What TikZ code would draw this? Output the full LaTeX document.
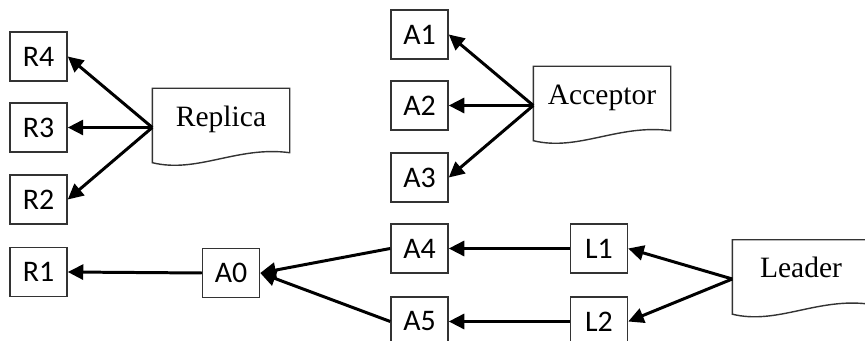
\documentclass[tikz,border=0pt]{standalone}
\usepackage{fontspec}
\setmainfont{Liberation Serif}
\newfontfamily\boxfont{Carlito}
\usetikzlibrary{calc, arrows.meta}

% outline of a document shape round a node
\newcommand{\docoutline}[1]{%
  \draw[docline] ($(#1.south west)+(0,0.08)$) -- (#1.north west) -- (#1.north east)
    -- ($(#1.south east)+(0,0.28)$)
    .. controls ($(#1.south west)+(1.7,0.42)$) and ($(#1.south west)+(0.9,-0.14)$)
    .. ($(#1.south west)+(0,0.08)$) -- cycle;}

\begin{document}
\begin{tikzpicture}[thick,
box/.style = {draw=black!80, line width=0.85pt, minimum width=1.14cm,
    minimum height=0.98cm, inner sep=0pt, font=\boxfont\fontsize{17}{20}\selectfont},
doc/.style = {minimum width=2.72cm, minimum height=1.54cm, inner sep=0pt,
    text height=0.4cm, text depth=0.45cm, font=\fontsize{16.8}{20}\selectfont},
docline/.style = {draw=black!80, line width=0.8pt},
link/.style = {line width=1.7pt, -{Triangle[length=3.1mm, width=3mm]}}]
\useasboundingbox (0,0) rectangle (17.3,6.82);
\clip (0,0) rectangle (17.3,6.82);

% replicas
\node [box] (r4) at (0.77,5.69) {R4};
\node [box] (r3) at (0.77,4.27) {R3};
\node [box] (r2) at (0.77,2.83) {R2};
\node [box] (r1) at (0.77,1.38) {R1};
\node [doc] (rep) at (4.42,4.27) {Replica};
\docoutline{rep}

% acceptors
\node [box] (a0) at (4.62,1.36) {A0};
\node [box] (a1) at (8.39,6.13) {A1};
\node [box] (a2) at (8.39,4.71) {A2};
\node [box] (a3) at (8.39,3.27) {A3};
\node [box] (a4) at (8.39,1.85) {A4};
\node [box] (a5) at (8.39,0.39) {A5};
\node [doc] (acc) at (12.04,4.71) {Acceptor};
\docoutline{acc}

% leaders
\node [box] (l1) at (11.98,1.85) {L1};
\node [box] (l2) at (11.98,0.39) {L2};
\node [doc] (lead) at (16.02,1.24) {Leader};
\docoutline{lead}

\draw [link] (rep.west) -- (r4.east);
\draw [link] (rep.west) -- (r3.east);
\draw [link] (rep.west) -- (r2.east);
\draw [link] (acc.west) -- (a1.east);
\draw [link] (acc.west) -- (a2.east);
\draw [link] (acc.west) -- (a3.east);
\draw [link] (a0.west) -- (r1.east);
\draw [link] (a4.west) -- (a0.east);
\draw [link] (a5.west) -- (a0.east);
\draw [link] (l1.west) -- (a4.east);
\draw [link] (l2.west) -- (a5.east);
\draw [link] (lead.west) -- (l1.east);
\draw [link] (lead.west) -- (l2.east);
\end{tikzpicture}
\end{document}
